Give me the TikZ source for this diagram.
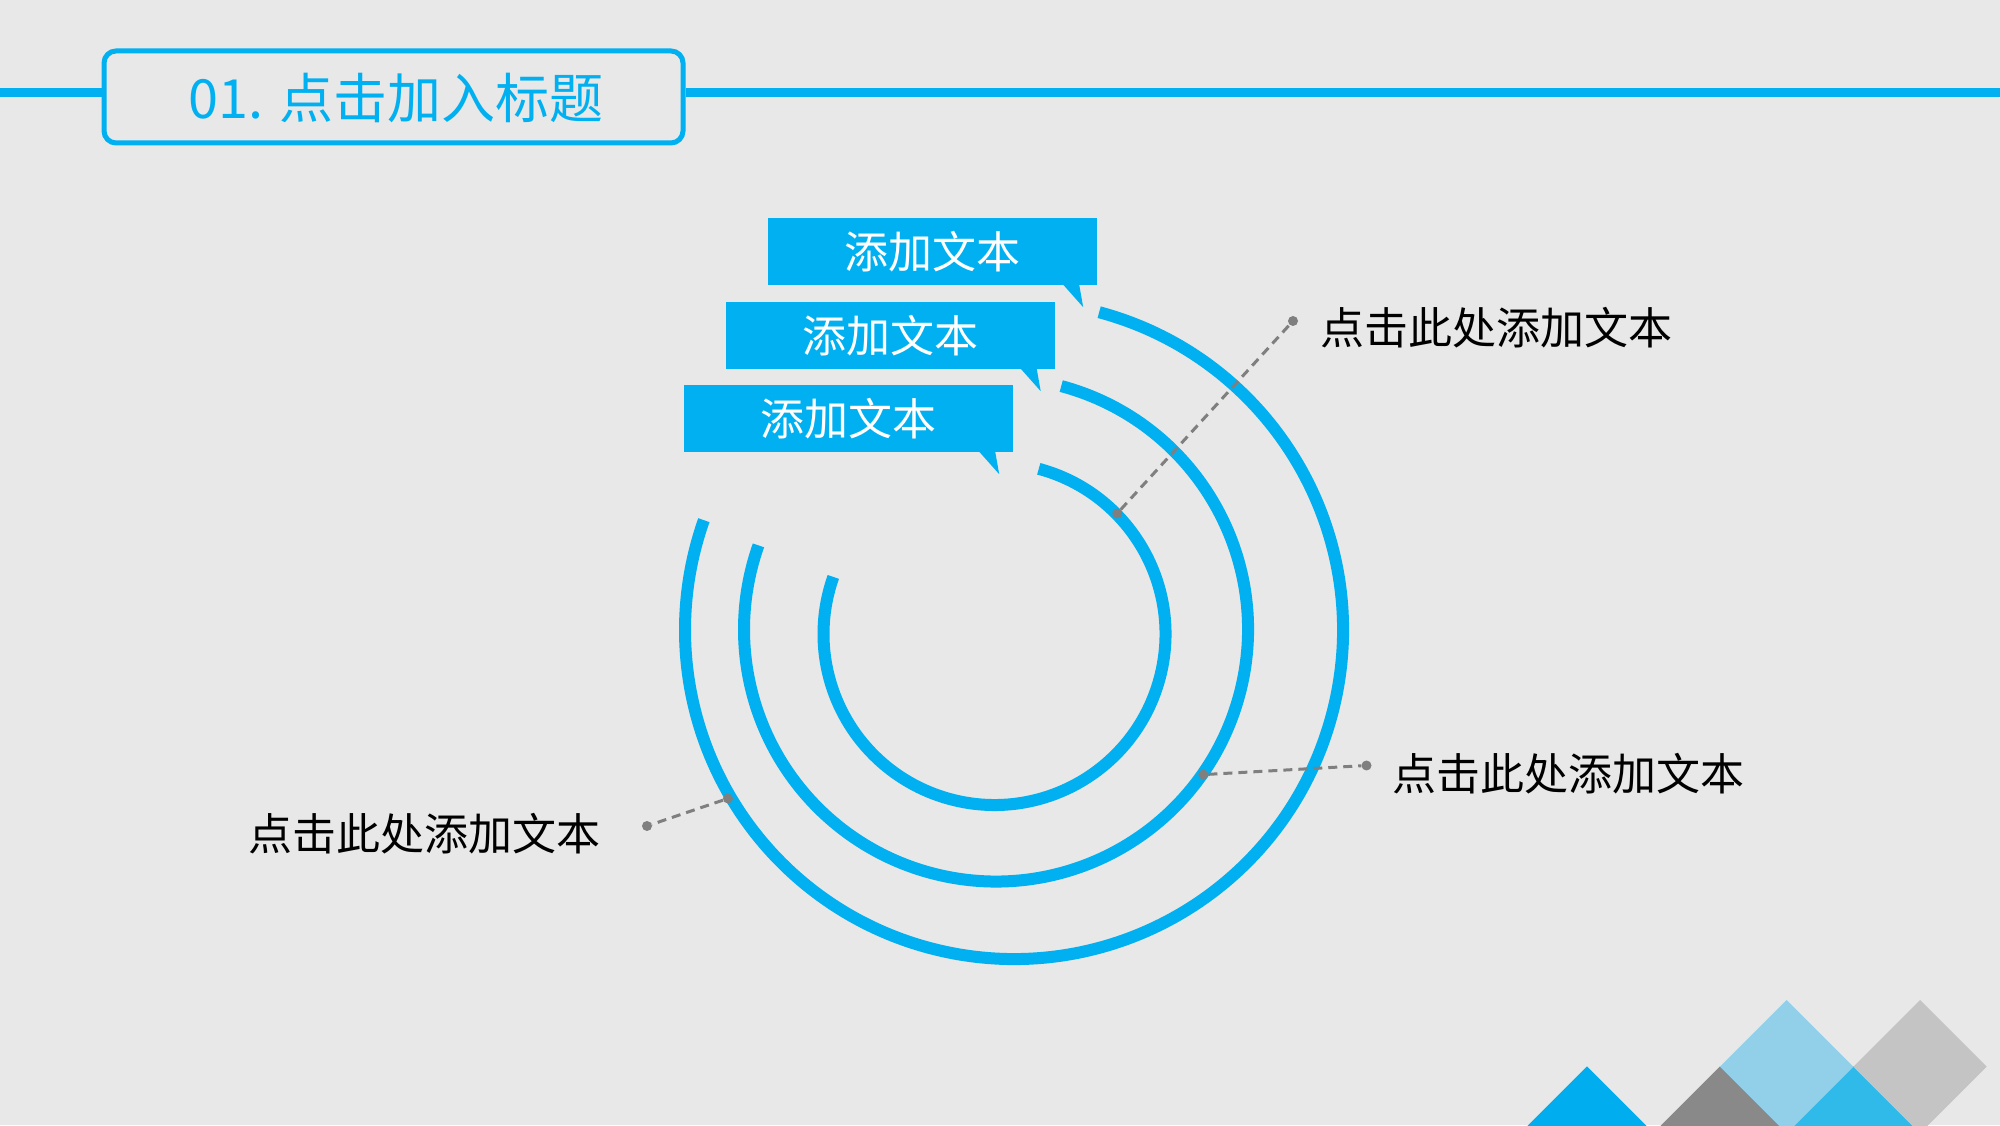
\documentclass[tikz,border=0pt]{standalone}
\usepackage{fontspec}
\setmainfont{Noto Sans CJK SC}
\usetikzlibrary{calc}
\definecolor{bg}{HTML}{E8E8E8}
\definecolor{cyanA}{HTML}{00B0F0}
\definecolor{dotgray}{HTML}{7F7F7F}
\definecolor{dblue}{HTML}{00AEEF}
\definecolor{dblueb}{HTML}{30BAEA}
\definecolor{dgray}{HTML}{898989}
\definecolor{dlblue}{HTML}{92D0EA}
\definecolor{dlgray}{HTML}{C4C4C4}
\newcommand\mydiamond[3]{\fill[#1] (#2,#3+66.7) -- (#2+66.7,#3) -- (#2,#3-66.7) -- (#2-66.7,#3) -- cycle;}
\begin{document}
\begin{tikzpicture}[x=1pt,y=1pt,
  ring/.style={draw=cyanA, line width=12pt},
  callout/.style={fill=cyanA, minimum width=329pt, minimum height=67pt, inner sep=0pt, text=white, font=\fontsize{44}{50}\selectfont},
  lbl/.style={font=\fontsize{44}{50}\selectfont, text=black, inner sep=0pt},
  dot/.style={circle, fill=dotgray, minimum size=10pt, inner sep=0pt},
  leader/.style={draw=dotgray, line width=3pt, dash pattern=on 9pt off 6pt},
  tail/.style={fill=cyanA}
]
\fill[bg] (0,0) rectangle (2000,1125);
\useasboundingbox (0,0) rectangle (2000,1125);
% decorative diamonds
\begin{scope}
\clip (0,0) rectangle (2000,1125);
\mydiamond{dblue}{1587}{-8}
\mydiamond{dgray}{1720}{-8}
\mydiamond{dblueb}{1853.3}{-8}
\mydiamond{dlblue}{1786.7}{58.3}
\mydiamond{dlgray}{1920}{58.3}
\end{scope}
% title
\coordinate (tl) at (0,1032.5);
\coordinate (tr) at (2000,1032.5);
\node[draw=cyanA, line width=5pt, rounded corners=12pt, minimum width=579pt, minimum height=92pt, inner sep=0pt] (titlebox) at (393.5,1028) {};
\node[text=cyanA, font=\fontsize{54}{60}\selectfont, inner sep=0pt] (title) at (396,1027) {01. 点击加入标题};
\draw[cyanA, line width=8.4pt] (tl) -- (titlebox.west |- tl);
\draw[cyanA, line width=8.4pt] (titlebox.east |- tr) -- (tr);
% rings
\coordinate (co) at (1014,495);
\coordinate (cm) at (996,495.5);
\coordinate (ci) at (994.5,491);
\draw[ring] ($(co)+(75:329)$) arc[start angle=75, end angle=-199.5, radius=329];
\draw[ring] ($(cm)+(75:252)$) arc[start angle=75, end angle=-199.5, radius=252];
\draw[ring] ($(ci)+(75:171)$) arc[start angle=75, end angle=-199.5, radius=171];
% callouts
\node[callout] (k1) at (932.5,873.5) {添加文本};
\fill[tail] ($(k1.south east)+(-34,0.5)$) -- ($(k1.south east)+(-18,0.5)$) -- ($(k1.south east)+(-14,-22)$) -- cycle;
\node[callout] (k2) at (890,789.5) {添加文本};
\fill[tail] ($(k2.south east)+(-34,0.5)$) -- ($(k2.south east)+(-18,0.5)$) -- ($(k2.south east)+(-14,-22)$) -- cycle;
\node[callout] (k3) at (848.5,706.5) {添加文本};
\fill[tail] ($(k3.south east)+(-34,0.5)$) -- ($(k3.south east)+(-18,0.5)$) -- ($(k3.south east)+(-14,-22)$) -- cycle;
% leaders and dots
\node[dot] (a1) at ($(ci)+(44.5:172)$) {};
\node[dot] (a2) at (1293,804) {};
\node[dot] (b1) at ($(cm)+(-35:253)$) {};
\node[dot] (b2) at (1366.5,359.5) {};
\node[dot] (c1) at ($(co)+(210.5:332)$) {};
\node[dot] (c2) at (647,299) {};
\draw[leader] (a1) -- (a2);
\draw[leader] (b1) -- (b2);
\draw[leader] (c1) -- (c2);
% labels
\node[lbl] (ta) at (1496,797.5) {点击此处添加文本};
\node[lbl] (tb) at (1568,351) {点击此处添加文本};
\node[lbl] (tc) at (424.7,291) {点击此处添加文本};
\end{tikzpicture}
\end{document}
